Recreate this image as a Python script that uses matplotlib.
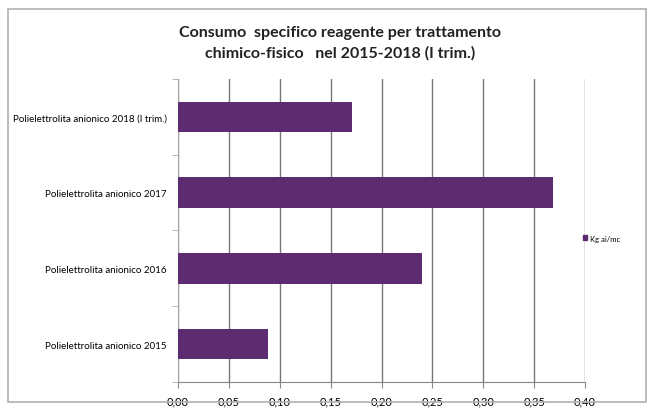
import matplotlib
matplotlib.use("Agg")

import matplotlib.pyplot as plt
from matplotlib.patches import Rectangle, Patch

categories = [
    "Polielettrolita anionico 2015",
    "Polielettrolita anionico 2016",
    "Polielettrolita anionico 2017",
    "Polielettrolita anionico 2018 (I trim.)",
]
values = [0.088, 0.240, 0.369, 0.171]
xticks = [0.00, 0.05, 0.10, 0.15, 0.20, 0.25, 0.30, 0.35, 0.40]
series_name = "Kg ai/mc"

bar_color = "#5c2b70"
fonts = ["Liberation Sans Narrow", "Lato", "DejaVu Sans"]
plt.rcParams["font.family"] = fonts

fig = plt.figure(figsize=(6.54, 4.10), dpi=100)
ax = fig.add_axes([0.2722, 0.0659, 0.6223, 0.739])

# outer chart frame
fig.patches.append(Rectangle((8 / 654, 7 / 410), 638 / 654, 393 / 410,
                             transform=fig.transFigure, fill=False,
                             edgecolor="#b0b0b0", linewidth=1.2))

pos = range(len(categories))
ax.barh(pos, values, height=0.4, color=bar_color, zorder=3)

ax.set_xlim(0, 0.40)
ax.set_ylim(-0.5, len(categories) - 0.5)
ax.set_xticks(xticks)
ax.set_xticklabels([f"{t:.2f}".replace(".", ",") for t in xticks], fontsize=8)
ax.set_yticks(list(pos))
ax.set_yticklabels(categories, fontsize=7)
ax.set_yticks([i + 0.5 for i in range(-1, len(categories))], minor=True)

ax.grid(axis="x", color="#777777", linewidth=1.0, zorder=1)
for side in ("top", "right"):
    ax.spines[side].set_visible(False)
ax.spines["left"].set_color("#aaaaaa")
ax.spines["bottom"].set_color("#888888")
ax.tick_params(axis="y", which="major", length=0, pad=8)
ax.tick_params(axis="y", which="minor", length=4, color="#aaaaaa")
ax.tick_params(axis="x", length=4, color="#888888", pad=6)

fig.text(0.52, 0.895, "Consumo  specifico reagente per trattamento\nchimico-fisico   nel 2015-2018 (I trim.)",
         ha="center", va="center", fontsize=11.5, fontweight="bold",
         linespacing=1.5, color="#222222")

ax.legend(handles=[Patch(color=bar_color, label=series_name)],
          loc="center left", bbox_to_anchor=(0.985, 0.475), frameon=False,
          fontsize=5.5, handlelength=0.6, handleheight=0.6,
          handletextpad=0.3, borderpad=0)

fig.savefig("out.png", dpi=100)
plt.close(fig)
